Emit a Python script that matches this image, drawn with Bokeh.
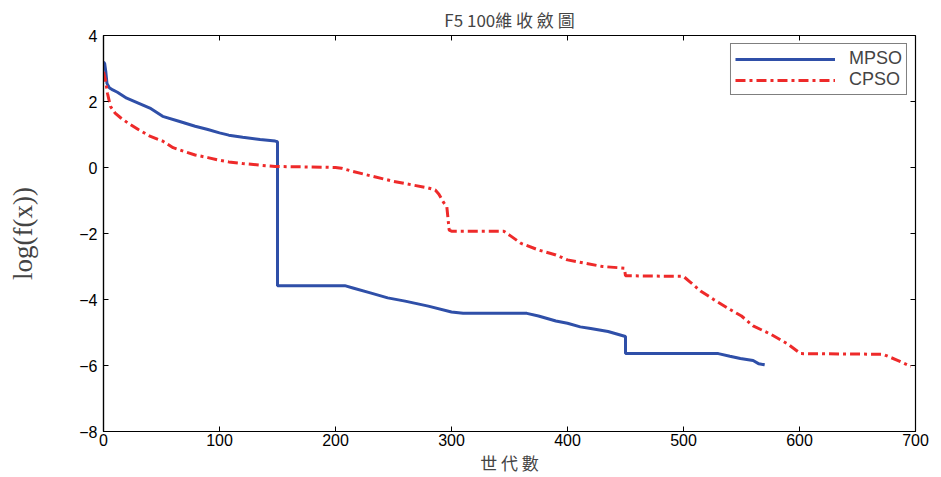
from bokeh.plotting import figure
from bokeh.models import FixedTicker, Legend, LegendItem, Range1d
from bokeh.embed import file_html
from bokeh.resources import INLINE

# data
mpso_x = [0, 1, 2, 3, 5, 8, 12, 20, 30, 40, 51, 65, 79, 90, 100, 108, 120, 135, 148, 150,
          150, 208, 215, 230, 245, 260, 280, 300, 310, 365, 375, 390, 400, 411, 420, 435, 450,
          450, 530, 540, 549, 560, 565, 570]
mpso_y = [3.2, 3.15, 2.9, 2.55, 2.42, 2.35, 2.28, 2.1, 1.95, 1.8, 1.55, 1.4, 1.25, 1.15, 1.05, 0.98, 0.92, 0.85, 0.80, 0.78,
          -3.58, -3.58, -3.65, -3.8, -3.95, -4.05, -4.2, -4.38, -4.42, -4.42, -4.5, -4.65, -4.72, -4.83, -4.88, -4.97, -5.12,
          -5.64, -5.64, -5.72, -5.79, -5.85, -5.95, -5.98]

cpso_x = [0, 2, 3.4, 6, 10, 15, 21, 30, 40, 51, 60, 70, 79, 90, 100, 108, 120, 135, 148, 170, 200,
          205, 215, 230, 250, 265, 280, 286, 289, 293, 296, 298, 300, 345, 350, 360, 375, 390, 400,
          415, 430, 449, 450, 500, 505, 515, 526, 540, 550, 560, 575, 590, 601, 640, 672, 685, 696]
cpso_y = [2.9, 2.6, 2.25, 1.85, 1.65, 1.5, 1.35, 1.15, 0.95, 0.8, 0.6, 0.48, 0.38, 0.3, 0.22, 0.17, 0.12, 0.07, 0.03, 0.02, 0.0,
          -0.02, -0.12, -0.25, -0.42, -0.52, -0.62, -0.68, -0.8, -1.05, -1.2, -1.9, -1.93, -1.93, -2.05, -2.3, -2.5, -2.65, -2.8,
          -2.9, -3.0, -3.05, -3.28, -3.3, -3.45, -3.75, -4.0, -4.3, -4.5, -4.8, -5.05, -5.35, -5.64, -5.65, -5.66, -5.85, -6.03]

x_ticks = [0, 100, 200, 300, 400, 500, 600, 700]
y_ticks = [-8, -6, -4, -2, 0, 2, 4]

title_text = "F5 100維 收 斂 圖"
x_label = "世 代 數"
y_label = "log(f(x))"

X0, X1, Y0, Y1 = 0, 700, -8, 4

p = figure(width=941, height=477, output_backend="svg", toolbar_location=None,
           x_range=Range1d(X0, X1), y_range=Range1d(Y0, Y1),
           min_border_left=103, min_border_right=26, min_border_top=35, min_border_bottom=44)
p.background_fill_color = "white"
p.border_fill_color = "white"
p.outline_line_color = "black"
p.outline_line_width = 1.2
p.grid.visible = False

p.title.text = title_text
p.title.align = "center"
p.title.text_font = "Noto Sans CJK TC"
p.title.text_font_size = "17px"
p.title.text_font_style = "normal"
p.title.offset = 0
p.title.standoff = 7

for ax in (p.xaxis[0], p.yaxis[0]):
    ax.major_tick_in = 5
    ax.major_tick_out = 0
    ax.minor_tick_line_color = None
    ax.axis_line_color = "black"
    ax.axis_line_width = 1.2
    ax.major_label_text_font = "Liberation Sans"
    ax.major_label_text_font_size = "16px"
    ax.major_label_text_color = "black"

p.xaxis[0].ticker = FixedTicker(ticks=x_ticks)
p.yaxis[0].ticker = FixedTicker(ticks=y_ticks)
p.xaxis[0].major_label_standoff = 2
p.yaxis[0].major_label_standoff = 6

p.xaxis[0].axis_label = x_label
p.xaxis[0].axis_label_text_font = "Noto Sans CJK TC"
p.xaxis[0].axis_label_text_font_size = "17px"
p.xaxis[0].axis_label_text_font_style = "normal"
p.xaxis[0].axis_label_standoff = 1

p.yaxis[0].axis_label = y_label
p.yaxis[0].axis_label_text_font = "Liberation Serif"
p.yaxis[0].axis_label_text_font_size = "27px"
p.yaxis[0].axis_label_text_font_style = "normal"
p.yaxis[0].axis_label_standoff = 38

# inward ticks on the top and right edges of the box
tx = 700 * 5 / 812.0
ty = 12 * 5 / 398.0
p.segment(x0=x_ticks, y0=[Y1] * len(x_ticks), x1=x_ticks, y1=[Y1 - ty] * len(x_ticks),
          line_color="black", line_width=1)
p.segment(x0=[X1] * len(y_ticks), y0=y_ticks, x1=[X1 - tx] * len(y_ticks), y1=y_ticks,
          line_color="black", line_width=1)

r1 = p.line(mpso_x, mpso_y, line_color="#2f4fa8", line_width=3)
r2 = p.line(cpso_x, cpso_y, line_color="#ee2a2a", line_width=3, line_dash="10 4 3 4")

legend = Legend(items=[LegendItem(label="MPSO", renderers=[r1]),
                       LegendItem(label="CPSO", renderers=[r2])],
                location="top_right")
legend.label_text_font = "Liberation Sans"
legend.label_text_font_size = "18px"
legend.border_line_color = "black"
legend.border_line_width = 1.5
legend.glyph_width = 100
legend.glyph_height = 10
legend.label_height = 10
legend.label_standoff = 14
legend.padding = 4
legend.spacing = 0
legend.margin = 8
p.add_layout(legend)

open("out.html", "w").write(file_html(p, INLINE))
